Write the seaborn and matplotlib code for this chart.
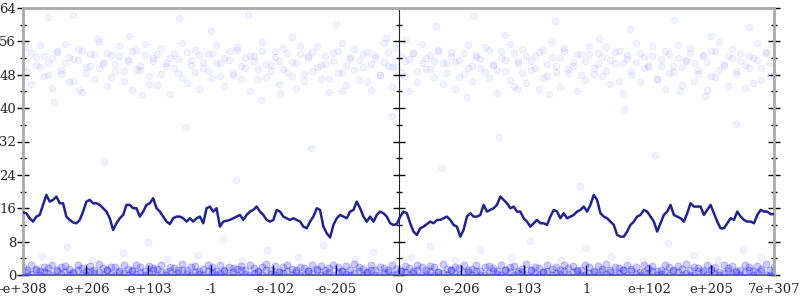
import numpy as np
import pandas as pd
import matplotlib
matplotlib.use("Agg")
import matplotlib.pyplot as plt
from matplotlib.ticker import MultipleLocator
import seaborn as sns

# ---------------- data ----------------
tick_labels = ["-e+308", "-e+206", "-e+103", "-1", "-e-102", "-e-205", "0",
               "e-206", "e-103", "1", "e+102", "e+205", "7e+307"]
y_ticks = [0, 8, 16, 24, 32, 40, 48, 56, 64]

line_vals = [
    15.0, 14.8, 13.6, 12.8, 14.0, 14.4, 16.8, 19.2, 17.6, 18.0,
    18.8, 17.2, 17.2, 14.0, 13.2, 12.6, 12.4, 13.2, 15.2, 17.6,
    18.0, 17.2, 17.2, 16.8, 16.0, 15.2, 13.6, 10.8, 12.4, 13.6,
    14.4, 16.8, 16.8, 16.0, 16.0, 14.0, 15.2, 16.8, 17.2, 18.4,
    16.0, 15.2, 14.0, 12.8, 12.2, 13.6,
    14.0, 14.0, 13.6, 12.8, 13.6, 12.8, 13.6, 14.0, 12.4, 16.0,
    16.4, 15.2, 16.0, 11.6, 12.8, 13.0, 13.2, 13.6, 14.0, 14.4,
    13.2, 14.4, 15.2, 15.6, 16.4, 15.2, 14.4, 13.2, 12.8, 13.2,
    15.6, 15.2, 14.0, 13.6, 13.2, 13.6, 13.2, 12.8, 11.6, 11.2,
    12.8, 14.0, 16.0, 15.6, 11.6,
    10.0, 9.0, 12.0, 13.6, 14.4, 14.0, 13.6, 15.2, 15.6, 17.6,
    16.0, 14.0, 12.8, 14.0, 12.8, 14.4, 15.2, 14.8, 14.0, 12.4,
    12.0, 12.2, 14.0, 15.2, 14.8, 12.4, 10.4, 9.6, 11.2, 11.6,
    12.2, 12.8, 12.4, 13.2, 13.2, 13.6, 14.0, 13.2, 12.0, 11.6,
    9.2, 10.8, 14.0, 14.8, 14.0,
    14.0, 14.4, 16.8, 15.2, 15.6, 16.0, 16.8, 18.8, 18.0, 17.2,
    16.0, 16.4, 15.2, 15.2, 13.6, 12.8, 11.6, 12.4, 13.2, 12.4,
    12.4, 12.0, 14.0, 15.6, 15.2, 13.6, 14.8, 13.6, 14.0, 14.4,
    15.2, 15.6, 16.4, 15.2, 16.8, 19.2, 18.0, 14.8, 14.0, 13.6,
    12.8, 12.0, 9.6, 9.2, 9.2,
    10.4, 12.0, 12.8, 14.0, 14.4, 15.6, 15.2, 14.0, 12.8, 10.4,
    12.4, 14.4, 15.2, 16.8, 14.4, 14.0, 13.6, 12.8, 14.8, 17.2,
    16.4, 16.4, 16.4, 14.4, 15.6, 16.8, 14.8, 12.8, 11.2, 11.2,
    12.4, 13.6, 13.2, 15.2, 14.0, 13.2, 12.8, 12.8, 12.4, 14.4,
    15.6, 15.2, 15.2, 14.6, 14.6,
]

upper_a = [
    51.2, 48.7, 53.1, 50.4, 49.8, 52.6, 47.9, 51.9, 53.4, 49.1,
    50.8, 52.2, 46.5, 51.5, 53.8, 48.3, 50.1, 52.9, 49.6, 51.0,
    53.2, 47.4, 50.6, 52.4, 48.9, 51.7, 53.6, 49.3, 50.2, 52.8,
    45.8, 51.3, 53.0, 48.1, 50.9, 52.1, 49.5, 51.8, 47.2, 53.5,
    50.3, 48.6, 52.7, 51.1, 49.0, 53.3, 50.7, 47.7, 52.0, 51.6,
    48.4, 53.9, 50.0, 49.7, 52.5, 51.4, 46.9, 53.7, 50.5, 48.8,
    52.3, 51.2, 49.4, 53.1, 47.6, 50.8, 52.9, 48.2, 51.9, 53.4,
    49.9, 50.4, 52.6, 47.1, 51.3, 53.8, 48.5, 50.1, 52.2, 49.2,
    51.6, 53.0, 46.2, 50.6, 52.8, 48.0, 51.0, 53.5, 49.8, 50.2,
    52.4, 47.8, 51.7, 53.2, 48.9, 50.9, 52.0, 49.3, 51.4, 53.6,
    50.7, 48.3, 52.5, 51.1, 47.5, 53.3, 49.6, 50.0, 52.7, 51.8,
    48.7, 53.9, 50.3, 49.1, 52.1, 51.5, 46.7, 53.1, 50.8, 48.4,
    52.6, 51.2, 49.7, 53.4, 47.3, 50.5, 52.3, 48.6, 51.9, 53.7,
    49.4, 50.1, 52.9, 47.9, 51.3, 53.0, 48.1, 50.6, 52.2, 49.0,
    51.6, 53.5, 46.4, 50.9, 52.8, 48.8, 51.0, 53.2, 49.5, 50.4,
    52.4, 47.0, 51.7, 53.6, 48.5, 50.2, 52.0, 49.9, 51.4, 53.3,
    50.7, 48.2, 52.6, 51.1, 47.7, 53.8, 49.2, 50.0, 52.5, 51.9,
    48.9, 53.1, 50.3, 49.6, 52.1, 51.5, 46.8, 53.4, 50.8, 48.0,
]

upper_b = [
    49.5, 54.6, 45.9, 52.3, 55.1, 47.6, 50.9, 44.8, 53.7, 48.2,
    55.4, 46.3, 51.8, 54.2, 43.9, 49.9, 53.0, 47.1, 55.8, 50.5,
    45.2, 52.7, 48.8, 54.9, 46.6, 51.2, 44.3, 53.9, 49.2, 55.3,
    47.8, 52.0, 45.6, 54.4, 50.1, 43.5, 53.3, 48.5, 55.6, 46.0,
    51.5, 54.0, 44.6, 49.7, 52.9, 47.3, 55.2, 50.8, 45.4, 53.6,
    48.0, 54.7, 46.9, 51.9, 44.1, 52.4, 49.4, 55.9, 47.5, 50.3,
    53.8, 45.8, 54.3, 48.7, 51.1, 44.9, 55.0, 46.4, 52.6, 49.0,
    54.8, 47.0, 50.6, 43.8, 53.2, 48.3, 55.5, 45.5, 51.7, 54.1,
    46.7, 49.8, 53.4, 44.4, 52.1, 47.9, 55.7, 50.0, 45.1, 54.5,
    48.6, 51.4, 44.0, 53.1, 46.2, 55.3, 49.3, 52.8, 47.4, 54.0,
    45.7, 50.7, 53.5, 44.7, 51.6, 48.1, 55.1, 46.5, 52.2, 49.6,
    54.6, 47.2, 50.4, 43.6, 53.7, 48.9, 55.4, 45.3, 51.3, 54.2,
    46.1, 49.1, 52.5, 44.5, 53.9, 47.7, 55.8, 50.2, 45.0, 54.4,
    48.4, 51.0, 44.2, 52.9, 46.8, 55.0, 49.5, 53.3, 47.6, 54.7,
    45.9, 50.8, 53.6, 43.7, 51.8, 48.0, 55.6, 46.3, 52.3, 49.9,
    54.9, 47.0, 50.1, 44.6, 53.0, 48.7, 55.2, 45.6, 51.5, 54.3,
    46.6, 49.2, 52.7, 44.3, 53.8, 47.4, 55.9, 50.6, 45.4, 54.1,
    48.2, 51.2, 44.8, 52.4, 46.0, 55.5, 49.7, 53.2, 47.8, 54.8,
]

lower_a = [
    0.0, 0.6, 0.2, 1.1, 0.0, 0.8, 0.4, 0.0, 1.0, 0.3,
    0.7, 0.0, 0.5, 1.2, 0.1, 0.0, 0.9, 0.4, 0.6, 0.0,
    1.1, 0.2, 0.0, 0.8, 0.5, 0.0, 1.0, 0.3, 0.7, 0.0,
    0.4, 1.2, 0.0, 0.6, 0.1, 0.9, 0.0, 0.5, 1.1, 0.2,
    0.0, 0.8, 0.3, 0.0, 1.0, 0.6, 0.0, 0.4, 0.9, 0.1,
    0.7, 0.0, 1.2, 0.3, 0.0, 0.5, 0.8, 0.0, 1.1, 0.2,
    0.0, 0.6, 0.4, 1.0, 0.0, 0.7, 0.1, 0.0, 0.9, 0.5,
    1.2, 0.0, 0.3, 0.8, 0.0, 0.6, 1.0, 0.2, 0.0, 0.4,
    0.9, 0.0, 0.7, 1.1, 0.1, 0.0, 0.5, 0.8, 0.0, 0.3,
    1.0, 0.6, 0.0, 0.4, 1.2, 0.0, 0.2, 0.9, 0.0, 0.7,
    0.5, 0.0, 1.1, 0.3, 0.0, 0.8, 0.6, 0.0, 1.0, 0.1,
    0.0, 0.4, 0.9, 0.2, 0.0, 1.2, 0.7, 0.0, 0.5, 0.8,
    0.0, 1.1, 0.3, 0.0, 0.6, 1.0, 0.0, 0.4, 0.2, 0.9,
    0.0, 0.7, 1.2, 0.1, 0.0, 0.5, 0.8, 0.0, 1.0, 0.3,
    0.6, 0.0, 0.4, 1.1, 0.0, 0.9, 0.2, 0.0, 0.7, 0.5,
    1.0, 0.0, 0.3, 0.8, 0.0, 1.2, 0.6, 0.0, 0.4, 0.1,
    0.0, 0.9, 0.7, 0.0, 1.1, 0.2, 0.0, 0.5, 1.0, 0.3,
    0.8, 0.0, 0.6, 1.2, 0.0, 0.4, 0.9, 0.0, 0.1, 0.7,
]

lower_b = [
    1.8, 1.2, 2.3, 1.5, 0.9, 2.0, 1.6, 2.5, 1.1, 1.9,
    2.2, 1.4, 0.8, 2.4, 1.7, 1.0, 2.1, 1.3, 2.6, 1.6,
    1.1, 2.0, 1.8, 0.9, 2.3, 1.5, 1.2, 2.5, 1.9, 1.0,
    2.2, 1.7, 1.4, 2.4, 0.8, 2.0, 1.6, 1.1, 2.6, 1.3,
    1.9, 2.1, 1.0, 1.5, 2.3, 1.8, 0.9, 2.5, 1.2, 2.0,
    1.7, 1.4, 2.2, 1.1, 2.4, 1.6, 1.0, 1.9, 2.6, 1.3,
    2.1, 0.8, 1.8, 2.3, 1.5, 1.2, 2.0, 1.7, 0.9, 2.5,
    1.4, 2.2, 1.1, 1.6, 2.4, 1.9, 1.0, 2.1, 1.3, 2.6,
    1.8, 1.5, 0.8, 2.3, 1.2, 2.0, 1.7, 1.1, 2.5, 1.4,
    0.9, 2.2, 1.6, 1.0, 2.4, 1.9, 1.3, 2.1, 1.8, 0.8,
    2.6, 1.5, 1.2, 2.0, 1.7, 2.3, 1.1, 1.4, 2.5, 1.0,
    1.9, 2.2, 1.6, 0.9, 2.4, 1.3, 1.8, 2.1, 1.0, 1.5,
    2.6, 1.2, 2.0, 1.7, 0.8, 2.3, 1.4, 1.9, 1.1, 2.5,
    1.6, 2.2, 1.0, 1.3, 2.4, 1.8, 0.9, 2.1, 1.5, 2.6,
    1.2, 2.0, 1.7, 1.1, 2.3, 1.4, 1.9, 0.8, 2.5, 1.6,
    2.2, 1.0, 1.3, 2.4, 1.8, 0.9, 2.1, 1.5, 2.6, 1.2,
    2.0, 1.7, 1.1, 2.3, 1.4, 1.9, 0.8, 2.5, 1.6, 2.2,
    1.0, 1.3, 2.4, 1.8, 0.9, 2.1, 1.5, 2.6, 1.2, 2.0,
]

sparse_x = [0.3, 0.7, 1.1, 1.6, 2.0, 2.3, 2.8, 3.2, 3.5, 3.9, 4.4, 4.8, 5.3, 5.6,
            6.2, 6.5, 6.9, 7.3, 7.8, 8.1, 8.6, 9.0, 9.4, 9.9, 10.3, 10.7, 11.1,
            11.5, 11.8,
            0.5, 1.3, 1.9, 2.6, 3.4, 3.8, 4.6, 5.1, 5.9, 6.7, 7.1, 7.6, 8.4, 8.9,
            9.6, 10.1, 10.9, 11.4, 0.9, 4.1, 7.9, 10.5,
            0.4, 0.8, 1.7, 2.5, 3.0, 3.6, 4.3, 5.0, 5.8, 6.6, 7.2, 7.7, 8.5, 9.2,
            9.7, 10.4, 11.0, 11.6, 1.2, 6.1]
sparse_y = [4.5, 6.8, 3.6, 5.2, 7.9, 3.9, 4.8, 8.6, 3.4, 6.1, 4.2, 7.3, 3.8, 5.5,
            4.4, 7.0, 3.5, 5.9, 4.0, 8.2, 3.7, 6.4, 4.6, 3.3, 7.6, 4.9, 3.6,
            6.0, 4.3,
            41.5, 27.0, 43.2, 35.4, 22.8, 42.0, 30.5, 44.0, 38.2, 25.6, 42.6, 33.0,
            43.5, 21.4, 39.8, 28.7, 42.9, 36.1, 44.3, 43.7, 44.5, 44.1,
            61.8, 62.3, 57.4, 61.6, 58.6, 62.4, 57.0, 60.2, 56.8, 59.7, 62.0, 57.6,
            60.9, 56.6, 58.9, 61.2, 57.3, 59.4, 56.5, 56.4]

# ---------------- frames ----------------
def band_frame(vals):
    return pd.DataFrame({"x": np.linspace(0, 12, len(vals)), "y": vals})

upper_df = pd.concat([band_frame(upper_a), band_frame(upper_b),
                      pd.DataFrame({"x": sparse_x, "y": sparse_y})], ignore_index=True)
lower_df = pd.concat([band_frame(lower_a), band_frame(lower_b)], ignore_index=True)
line_df = pd.DataFrame({"x": np.linspace(0, 12, len(line_vals)), "y": line_vals})

# ---------------- plot ----------------
sns.set_style("white")
plt.rcParams["font.family"] = ["DejaVu Serif"]

fig = plt.figure(figsize=(8, 3), dpi=100)
ax = fig.add_axes([23 / 800, 25 / 300, 751 / 800, 267 / 300])

blue = "#0000ff"
sns.scatterplot(data=upper_df, x="x", y="y", ax=ax, s=24, color=blue,
                edgecolor=blue, linewidth=0.7, alpha=0.05, legend=False,
                clip_on=True, zorder=1)
sns.scatterplot(data=lower_df, x="x", y="y", ax=ax, s=26, color=blue,
                edgecolor=blue, linewidth=0.7, alpha=0.2, legend=False,
                clip_on=True, zorder=1)
sns.lineplot(data=line_df, x="x", y="y", ax=ax, color="#23238e",
             linewidth=1.8, zorder=4)

ax.set_xlim(0, 12)
ax.set_ylim(0, 64)
ax.set_xlabel("")
ax.set_ylabel("")
ax.set_xticks(range(len(tick_labels)))
ax.set_xticklabels(tick_labels, fontsize=9.5)
ax.set_yticks(y_ticks)
ax.set_yticklabels([str(v) for v in y_ticks], fontsize=9.5)
ax.yaxis.set_minor_locator(MultipleLocator(4))

grey = "#aaaaaa"
for side in ["left", "right", "top"]:
    ax.spines[side].set_color(grey)
    ax.spines[side].set_linewidth(2)
    ax.spines[side].set_visible(True)
ax.spines["bottom"].set_visible(True)
ax.spines["bottom"].set_color("#4a4ad8")
ax.spines["bottom"].set_linewidth(1.2)

ax.tick_params(axis="y", which="major", direction="inout", length=8, width=1,
               color="black", left=True, right=True, pad=1)
ax.tick_params(axis="y", which="minor", direction="inout", length=4, width=1,
               color="black", left=True, right=True)
ax.tick_params(axis="x", which="major", direction="in", length=7, width=1,
               color="black", bottom=True, pad=6)

# middle axis at zero
mid = ax.secondary_yaxis(0.5)
mid.set_yticks(y_ticks)
mid.set_yticklabels([])
mid.yaxis.set_minor_locator(MultipleLocator(4))
mid.spines["left"].set_color(grey)
mid.spines["left"].set_linewidth(2)
mid.tick_params(axis="y", which="major", direction="inout", length=8, width=1,
                color="black")
mid.tick_params(axis="y", which="minor", direction="inout", length=4, width=1,
                color="black")

fig.savefig("out.png", dpi=100)
